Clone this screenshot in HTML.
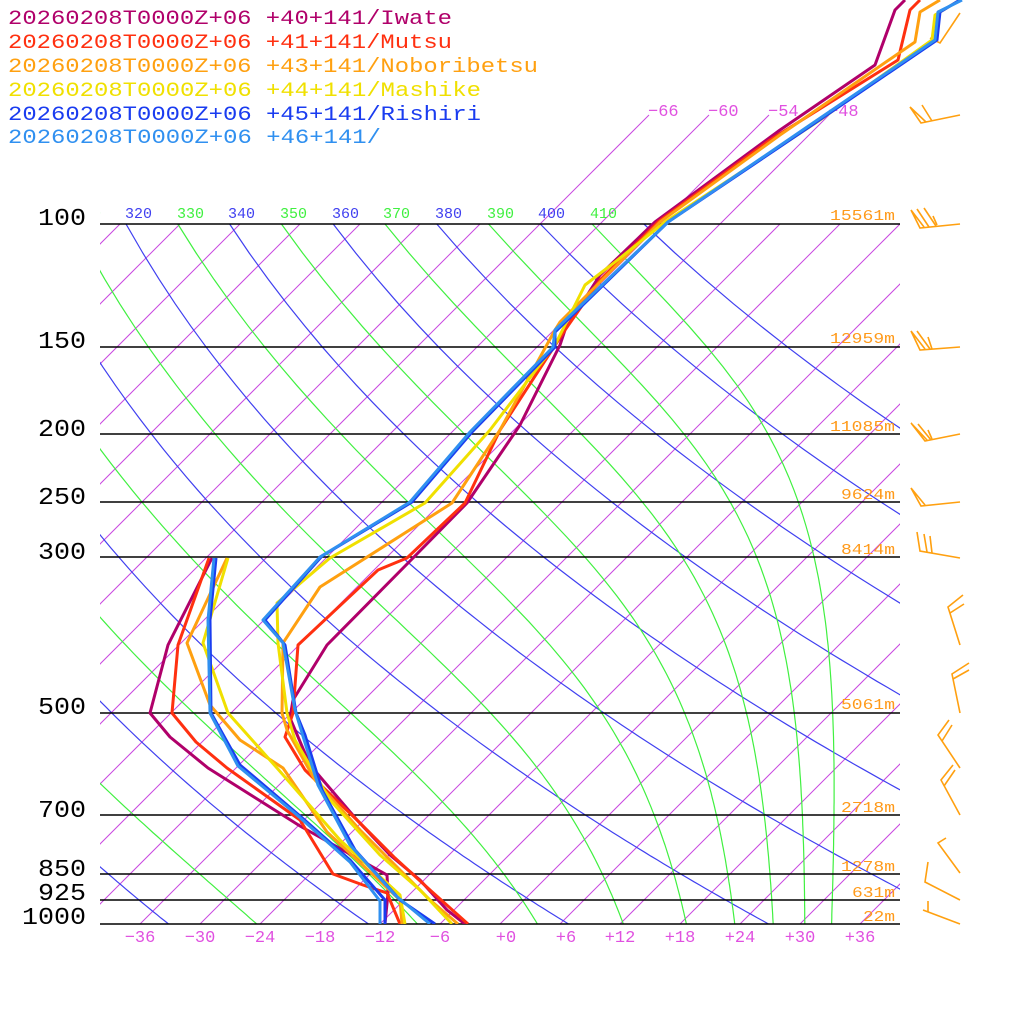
<!DOCTYPE html>
<html><head><meta charset="utf-8"><style>
html,body{margin:0;padding:0;background:#fff;width:1024px;height:1024px;overflow:hidden}
svg{display:block}
text{font-family:"Liberation Mono",monospace}
</style></head><body>
<svg id="s" width="1024" height="1024" viewBox="0 0 1024 1024" xmlns="http://www.w3.org/2000/svg">
<defs><clipPath id="c"><rect x="100" y="0" width="800" height="924"/></clipPath>
<clipPath id="c2"><rect x="100" y="0" width="924" height="924"/></clipPath></defs>
<g id="grid" clip-path="url(#c)"></g>
<g stroke="#000" stroke-width="1.5">
<line x1="100" y1="224" x2="900" y2="224"/><line x1="100" y1="347" x2="900" y2="347"/>
<line x1="100" y1="434" x2="900" y2="434"/><line x1="100" y1="502" x2="900" y2="502"/>
<line x1="100" y1="557" x2="900" y2="557"/><line x1="100" y1="713" x2="900" y2="713"/>
<line x1="100" y1="815" x2="900" y2="815"/><line x1="100" y1="874" x2="900" y2="874"/>
<line x1="100" y1="900" x2="900" y2="900"/><line x1="100" y1="924" x2="900" y2="924"/>
</g>
<g clip-path="url(#c)" font-size="15">
<text x="74" y="218" fill="#40f040">310</text>
<text x="125" y="218" fill="#4040f0">320</text>
<text x="177" y="218" fill="#40f040">330</text>
<text x="228" y="218" fill="#4040f0">340</text>
<text x="280" y="218" fill="#40f040">350</text>
<text x="332" y="218" fill="#4040f0">360</text>
<text x="383" y="218" fill="#40f040">370</text>
<text x="435" y="218" fill="#4040f0">380</text>
<text x="487" y="218" fill="#40f040">390</text>
<text x="538" y="218" fill="#4040f0">400</text>
<text x="590" y="218" fill="#40f040">410</text>
</g>
<g font-size="17" fill="#e050e0">
<text x="648" y="116">−66</text><text x="708" y="116">−60</text><text x="768" y="116">−54</text><text x="828" y="116">−48</text>
<g text-anchor="middle">
<text x="140" y="942">−36</text><text x="200" y="942">−30</text><text x="260" y="942">−24</text><text x="320" y="942">−18</text>
<text x="380" y="942">−12</text><text x="440" y="942">−6</text><text x="506" y="942">+0</text><text x="566" y="942">+6</text>
<text x="620" y="942">+12</text><text x="680" y="942">+18</text><text x="740" y="942">+24</text><text x="800" y="942">+30</text><text x="860" y="942">+36</text>
</g></g>
<g font-size="15" fill="#ff9a1a">
<text x="830" y="220" textLength="65" lengthAdjust="spacingAndGlyphs">15561m</text>
<text x="830" y="343" textLength="65" lengthAdjust="spacingAndGlyphs">12959m</text>
<text x="830" y="431" textLength="65" lengthAdjust="spacingAndGlyphs">11085m</text>
<text x="841" y="499" textLength="54" lengthAdjust="spacingAndGlyphs">9624m</text>
<text x="841" y="554" textLength="54" lengthAdjust="spacingAndGlyphs">8414m</text>
<text x="841" y="709" textLength="54" lengthAdjust="spacingAndGlyphs">5061m</text>
<text x="841" y="812" textLength="54" lengthAdjust="spacingAndGlyphs">2718m</text>
<text x="841" y="871" textLength="54" lengthAdjust="spacingAndGlyphs">1278m</text>
<text x="852" y="897" textLength="43" lengthAdjust="spacingAndGlyphs">631m</text>
<text x="863" y="921" textLength="32" lengthAdjust="spacingAndGlyphs">22m</text>
</g>
<g font-size="24" fill="#000">
<text x="38" y="225" textLength="48" lengthAdjust="spacingAndGlyphs">100</text>
<text x="38" y="348" textLength="48" lengthAdjust="spacingAndGlyphs">150</text>
<text x="38" y="436" textLength="48" lengthAdjust="spacingAndGlyphs">200</text>
<text x="38" y="504" textLength="48" lengthAdjust="spacingAndGlyphs">250</text>
<text x="38" y="559" textLength="48" lengthAdjust="spacingAndGlyphs">300</text>
<text x="38" y="714" textLength="48" lengthAdjust="spacingAndGlyphs">500</text>
<text x="38" y="817" textLength="48" lengthAdjust="spacingAndGlyphs">700</text>
<text x="38" y="876" textLength="48" lengthAdjust="spacingAndGlyphs">850</text>
<text x="38" y="900" textLength="48" lengthAdjust="spacingAndGlyphs">925</text>
<text x="22" y="924" textLength="64" lengthAdjust="spacingAndGlyphs">1000</text>
</g>
<g font-size="20">
<text x="8" y="24" fill="#b0006a" textLength="444" lengthAdjust="spacingAndGlyphs">20260208T0000Z+06 +40+141/Iwate</text>
<text x="8" y="48" fill="#ff3010" textLength="444" lengthAdjust="spacingAndGlyphs">20260208T0000Z+06 +41+141/Mutsu</text>
<text x="8" y="72" fill="#ffa010" textLength="530" lengthAdjust="spacingAndGlyphs">20260208T0000Z+06 +43+141/Noboribetsu</text>
<text x="8" y="96" fill="#f0e000" textLength="473" lengthAdjust="spacingAndGlyphs">20260208T0000Z+06 +44+141/Mashike</text>
<text x="8" y="120" fill="#1a3cf0" textLength="473" lengthAdjust="spacingAndGlyphs">20260208T0000Z+06 +45+141/Rishiri</text>
<text x="8" y="143" fill="#3090f0" textLength="373" lengthAdjust="spacingAndGlyphs">20260208T0000Z+06 +46+141/</text>
</g>
<g fill="none" stroke="#ffa010" stroke-width="1.6">
<polyline points="960,13 940,43 930,38"/>
<polyline points="960,115 921,123 910,107 926,122"/><line x1="922" y1="105" x2="932" y2="121"/>
<polyline points="960,224 920,228 911,210 924,227"/><line x1="917" y1="209" x2="929" y2="227"/><line x1="924" y1="208" x2="936" y2="226"/><line x1="933" y1="216" x2="937" y2="225"/>
<polyline points="960,347 920,350 911,331 925,349"/><line x1="917" y1="331" x2="930" y2="349"/><line x1="928" y1="337" x2="932" y2="349"/>
<polyline points="960,434 925,441 911,423 927,440"/><line x1="918" y1="424" x2="931" y2="440"/><line x1="928" y1="430" x2="932" y2="439"/>
<polyline points="960,502 921,506 911,488 925,505"/>
<polyline points="960,558 920,551 917,532"/><line x1="927" y1="552" x2="924" y2="534"/><line x1="932" y1="553" x2="930" y2="536"/>
<polyline points="960,645 948,607 963,595"/><line x1="950" y1="613" x2="964" y2="604"/>
<polyline points="960,713 952,674 969,663"/><line x1="953" y1="679" x2="969" y2="670"/>
<polyline points="960,768 938,735 949,720"/><line x1="942" y1="741" x2="952" y2="725"/>
<polyline points="960,815 941,780 953,765"/><line x1="944" y1="786" x2="955" y2="770"/>
<polyline points="960,873 938,843 946,838"/>
<polyline points="960,900 925,882 928,862"/>
<polyline points="960,924 923,910"/><line x1="928" y1="912" x2="928" y2="901"/>
</g>
<g fill="none" stroke-width="3" stroke-linejoin="round" clip-path="url(#c2)">
<polyline stroke="#b0006a" points="212,558 168,645 150,713 170,737 208,768 300,826 387,875 388,893 385,924"/>
<polyline stroke="#ff3010" points="209,558 178,645 172,713 196,742 227,768 300,820 333,874 363,885 387,893 400,924"/>
<polyline stroke="#ffa010" points="227,558 187,643 210,705 240,740 283,768 327,832 400,900 402,924"/>
<polyline stroke="#f0e000" points="228,558 203,643 228,713 277,768 340,840 400,895 405,924"/>
<polyline stroke="#1a3cf0" points="216,558 210,620 211,713 240,765 300,816 350,860 385,900 385,924"/>
<polyline stroke="#3090f0" points="214,558 208,620 210,713 238,766 297,815 350,862 380,901 380,924"/>
<polyline stroke="#b0006a" points="905,0 895,10 875,65 780,130 655,222 600,275 565,330 560,345 520,425 467,503 413,558 327,645 293,700 290,718 310,765 357,820 390,855 420,880 447,910 465,924"/>
<polyline stroke="#ff3010" points="920,0 910,10 898,60 770,140 658,222 600,280 565,330 500,430 465,503 407,558 378,570 298,645 293,713 285,737 305,770 357,820 395,858 430,890 468,924"/>
<polyline stroke="#ffa010" points="940,0 920,12 915,42 780,135 660,222 610,272 560,322 555,330 500,430 452,503 320,587 283,643 282,713 287,730 315,780 360,830 400,870 430,900 458,924"/>
<polyline stroke="#f0e000" points="960,0 935,15 932,40 820,120 665,222 615,262 585,285 555,345 490,430 425,503 330,558 277,603 278,643 287,713 295,740 330,800 380,855 420,890 452,924"/>
<polyline stroke="#1a3cf0" points="960,0 940,12 937,40 812,125 668,222 555,332 555,347 472,432 412,502 322,556 265,620 285,645 296,713 305,735 322,790 355,850 400,900 435,924"/>
<polyline stroke="#3090f0" points="962,0 938,12 935,40 810,125 668,222 555,330 553,347 470,432 410,502 320,557 263,620 283,643 295,710 302,733 318,785 350,845 395,895 430,924"/>
</g>
</svg>
<script>
(function(){
var g=document.getElementById('grid'),NS='http://www.w3.org/2000/svg';
function Y(p){return 924-304*Math.log(1000/p);}
function X(T,y){return 500+10*T+(924-y);}
function add(pts,col,w){var e=document.createElementNS(NS,'polyline');e.setAttribute('points',pts.join(' '));e.setAttribute('fill','none');e.setAttribute('stroke',col);e.setAttribute('stroke-width',w);g.appendChild(e);}
for(var T=-120;T<=40;T+=6){var ytop=(T>=-66&&T<=-48)?115:224;add([X(T,924)+','+924,X(T,ytop)+','+ytop],'#c848e0',1);}
for(var th=200;th<=420;th+=20){var pts=[];for(var p=100;p<=1000;p+=10){var y=Y(p),T=th*Math.pow(p/1000,0.2857)-273.15;pts.push(X(T,y).toFixed(1)+','+y.toFixed(1));}add(pts,'#4040f0',1.2);}
function es(Tc){return 6.112*Math.exp(17.67*Tc/(Tc+243.5));}
for(var te=210;te<=410;te+=20){var TK=te*Math.pow(0.1,0.2857),pts=[];for(var p=100;p<=1000;p+=1){if(p%10==0){var y=Y(p);pts.push(X(TK-273.15,y).toFixed(1)+','+y.toFixed(1));}var e=es(TK-273.15),rs=0.622*e/(p-e);var d=(287*TK+2.5e6*rs)/(p*(1005+2.5e6*2.5e6*rs*0.622/(287*TK*TK)));TK+=d;}add(pts,'#40f040',1.2);}
})();
</script>
</body></html>
